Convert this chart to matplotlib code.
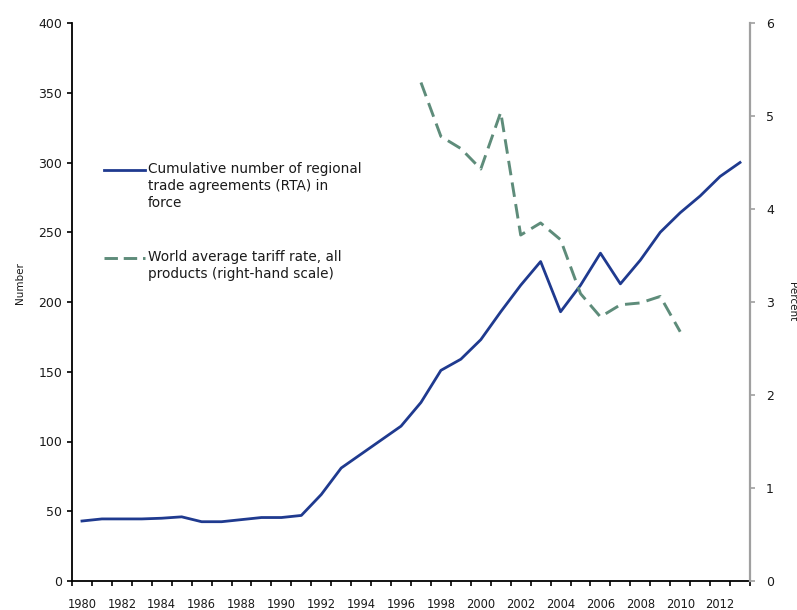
import matplotlib
matplotlib.use("Agg")
import matplotlib.pyplot as plt
from matplotlib.lines import Line2D

years = list(range(1980, 2014))
rta_count = [43, 44.5, 44.5, 44.5, 45, 46, 42.5, 42.5, 44, 45.5, 45.5, 47,
             62, 81, 91, 101, 111, 128, 151, 159, 173, 193, 212, 229,
             193, 212, 235, 213, 230, 250, 264, 276, 290, 300]
tariff_years = list(range(1997, 2011))
tariff_rate = [5.36, 4.78, 4.65, 4.43, 5.04, 3.72, 3.85, 3.67, 3.09, 2.84,
               2.97, 2.99, 3.06, 2.68]
xtick_labels = [str(y) for y in range(1980, 2013, 2)]
rta_label = "Cumulative number of regional\ntrade agreements (RTA) in\nforce"
tariff_label = "World average tariff rate, all\nproducts (right-hand scale)"

W, H = 797, 610
fig = plt.figure(figsize=(W / 100, H / 100), dpi=100)
plt.rcParams['font.family'] = ['DejaVu Sans']

L, R, B, T = 72, 750, 581, 23
ax = fig.add_axes([L / W, 1 - B / H, (R - L) / W, (B - T) / H])
ax2 = ax.twinx()

blue = '#1f3a8f'
green = '#5e8c7a'
txtc = '#1a1a1a'

ax.plot(years, rta_count, color=blue, lw=2.0, solid_joinstyle='round', zorder=3)
ax2.plot(tariff_years, tariff_rate, color=green, lw=2.1, dashes=(5.0, 2.5),
         zorder=3)

ax.set_xlim(1979.5, 2013.5)
ax.set_ylim(0, 400)
ax2.set_ylim(0, 6)
ax.set_yticks(range(0, 401, 50))
ax2.set_yticks(range(0, 7))

ax.set_xticks(range(1980, 2013, 2))
ax.set_xticklabels(xtick_labels)
ax.set_xticks([y - 0.5 for y in range(1980, 2015)], minor=True)
ax.tick_params(axis='x', which='major', length=0, pad=12, labelsize=8.3,
               labelcolor=txtc)
ax.tick_params(axis='x', which='minor', length=3.4, width=1.2, color='black',
               direction='out')
ax.tick_params(axis='y', which='major', length=3.6, width=1.2, color='black',
               direction='out', pad=3.5, labelsize=9, labelcolor=txtc)
ax2.tick_params(axis='y', which='major', length=3.6, width=1.2,
                color='#a0a0a0', direction='out', pad=8, labelsize=9,
                labelcolor=txtc)

for a in (ax, ax2):
    a.spines['top'].set_visible(False)
ax.spines['right'].set_visible(False)
ax2.spines['left'].set_visible(False)
ax2.spines['bottom'].set_visible(False)
ax.spines['left'].set_linewidth(1.3)
ax.spines['bottom'].set_linewidth(1.3)
ax2.spines['right'].set_color('#a0a0a0')
ax2.spines['right'].set_linewidth(1.6)

fig.text(20 / W, 1 - 283 / H, "Number", rotation=90, ha='center', va='center',
         fontsize=7.5, color=txtc)
fig.text(787 / W, 1 - 302 / H, "Percent", rotation=270, ha='left',
         va='center', fontsize=7.5, color=txtc)

# legend (manual, handle aligned with first text line)
def legend_entry(y_px, style, label):
    fig.add_artist(Line2D([104 / W, 145 / W], [1 - y_px / H, 1 - y_px / H],
                          transform=fig.transFigure, **style))
    fig.text(148 / W, 1 - (y_px - 7.5) / H, label, ha='left', va='top',
             fontsize=9.8, color=txtc, linespacing=1.27)

legend_entry(170, dict(color=blue, lw=2.0), rta_label)
legend_entry(258, dict(color=green, lw=2.1, dashes=(4.6, 2.0)), tariff_label)

fig.savefig("out.png", dpi=100)
